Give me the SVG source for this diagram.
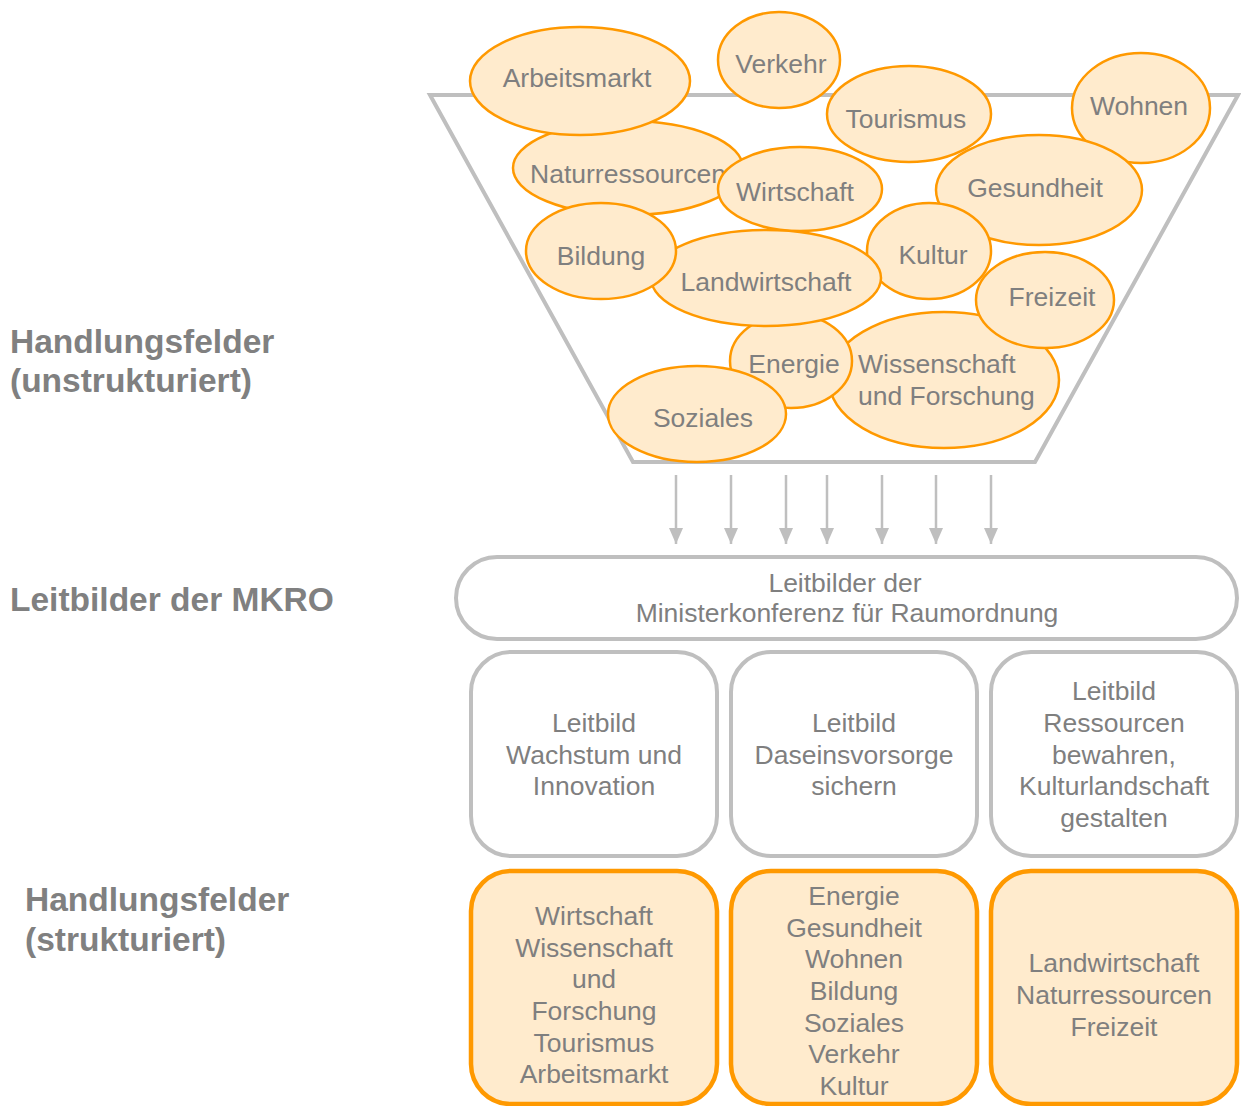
<svg xmlns="http://www.w3.org/2000/svg" width="1241" height="1106" viewBox="0 0 1241 1106">
<style>
.t{font-family:"Liberation Sans",Arial,sans-serif;font-size:26.5px;fill:#7F7F7F;text-anchor:middle}
.s{text-anchor:start}
.lbl{font-family:"Liberation Sans",Arial,sans-serif;font-size:33.5px;font-weight:bold;fill:#808080}
.el{fill:#FFEBCD;stroke:#FF9900;stroke-width:2.5}
.box{fill:#FFFFFF;stroke:#BFBFBF;stroke-width:4}
.obox{fill:#FFEBCD;stroke:#FF9900;stroke-width:4.5}
.ar{stroke:#BFBFBF;stroke-width:2.5;fill:none}
</style>
<defs>
<marker id="ah" markerWidth="16" markerHeight="14" refX="16" refY="7" orient="auto" markerUnits="userSpaceOnUse" viewBox="0 0 16 14">
<path d="M0,0 L16,7 L0,14 Z" fill="#BFBFBF"/>
</marker>
</defs>
<rect width="1241" height="1106" fill="#FFFFFF"/>

<g id="labels">
<text class="lbl" x="10" y="353">Handlungsfelder</text>
<text class="lbl" x="10" y="392">(unstrukturiert)</text>
<text class="lbl" x="10" y="611">Leitbilder der MKRO</text>
<text class="lbl" x="25" y="911">Handlungsfelder</text>
<text class="lbl" x="25" y="951">(strukturiert)</text>
</g>

<g id="funnel">
<polygon points="430,95 1238,95 1035,462 633,462" fill="none" stroke="#BFBFBF" stroke-width="4"/>
</g>

<g id="n-verkehr"><ellipse class="el" cx="779" cy="60" rx="61" ry="48"/><text class="t" x="781" y="73">Verkehr</text></g>
<g id="n-tourismus"><ellipse class="el" cx="909" cy="114" rx="82" ry="48"/><text class="t" x="906" y="128">Tourismus</text></g>
<g id="n-wohnen"><ellipse class="el" cx="1141" cy="108" rx="69" ry="55"/><text class="t" x="1139" y="115">Wohnen</text></g>
<g id="n-gesundheit"><ellipse class="el" cx="1039" cy="190" rx="103" ry="55"/><text class="t" x="1035" y="197">Gesundheit</text></g>
<g id="n-naturressourcen"><ellipse class="el" cx="628" cy="168" rx="115" ry="47"/><text class="t" x="628" y="183">Naturressourcen</text></g>
<g id="n-arbeitsmarkt"><ellipse class="el" cx="580" cy="81" rx="110" ry="54"/><text class="t" x="577" y="87">Arbeitsmarkt</text></g>
<g id="n-wirtschaft"><ellipse class="el" cx="800" cy="189" rx="82" ry="42"/><text class="t" x="795" y="201">Wirtschaft</text></g>
<g id="n-kultur"><ellipse class="el" cx="929" cy="251" rx="62" ry="48"/><text class="t" x="933" y="264">Kultur</text></g>
<g id="n-wissenschaft"><ellipse class="el" cx="944" cy="380" rx="115" ry="68"/><text class="t s" x="858" y="373">Wissenschaft</text><text class="t s" x="858" y="405">und Forschung</text></g>
<g id="n-energie"><ellipse class="el" cx="791" cy="361" rx="61" ry="47"/><text class="t" x="794" y="373">Energie</text></g>
<g id="n-landwirtschaft"><ellipse class="el" cx="766" cy="278" rx="115" ry="48"/><text class="t" x="766" y="291">Landwirtschaft</text></g>
<g id="n-bildung"><ellipse class="el" cx="601" cy="251" rx="75" ry="48"/><text class="t" x="601" y="265">Bildung</text></g>
<g id="n-freizeit"><ellipse class="el" cx="1045" cy="300" rx="69" ry="48"/><text class="t" x="1052" y="306">Freizeit</text></g>
<g id="n-soziales"><ellipse class="el" cx="697" cy="414" rx="89" ry="48"/><text class="t" x="703" y="427">Soziales</text></g>

<g id="connectors">
<line class="ar" x1="676" y1="475" x2="676" y2="544" marker-end="url(#ah)"/>
<line class="ar" x1="731" y1="475" x2="731" y2="544" marker-end="url(#ah)"/>
<line class="ar" x1="786" y1="475" x2="786" y2="544" marker-end="url(#ah)"/>
<line class="ar" x1="827" y1="475" x2="827" y2="544" marker-end="url(#ah)"/>
<line class="ar" x1="882" y1="475" x2="882" y2="544" marker-end="url(#ah)"/>
<line class="ar" x1="936" y1="475" x2="936" y2="544" marker-end="url(#ah)"/>
<line class="ar" x1="991" y1="475" x2="991" y2="544" marker-end="url(#ah)"/>
</g>

<g id="leitbilder-mkro">
<rect class="box" x="456" y="557" width="781" height="82" rx="41" ry="41"/>
<text class="t" x="845" y="592">Leitbilder der</text>
<text class="t" x="847" y="622">Ministerkonferenz für Raumordnung</text>
</g>

<g id="leitbild-wachstum">
<rect class="box" x="471" y="652" width="246" height="204" rx="40" ry="40"/>
<text class="t" x="594" y="732">Leitbild</text>
<text class="t" x="594" y="764">Wachstum und</text>
<text class="t" x="594" y="795">Innovation</text>
</g>
<g id="leitbild-daseinsvorsorge">
<rect class="box" x="731" y="652" width="246" height="204" rx="40" ry="40"/>
<text class="t" x="854" y="732">Leitbild</text>
<text class="t" x="854" y="764">Daseinsvorsorge</text>
<text class="t" x="854" y="795">sichern</text>
</g>
<g id="leitbild-ressourcen">
<rect class="box" x="991" y="652" width="246" height="204" rx="40" ry="40"/>
<text class="t" x="1114" y="700">Leitbild</text>
<text class="t" x="1114" y="732">Ressourcen</text>
<text class="t" x="1114" y="764">bewahren,</text>
<text class="t" x="1114" y="795">Kulturlandschaft</text>
<text class="t" x="1114" y="827">gestalten</text>
</g>

<g id="hf-wachstum">
<rect class="obox" x="471" y="871" width="246" height="233" rx="40" ry="40"/>
<text class="t" x="594" y="925">Wirtschaft</text>
<text class="t" x="594" y="957">Wissenschaft</text>
<text class="t" x="594" y="988">und</text>
<text class="t" x="594" y="1020">Forschung</text>
<text class="t" x="594" y="1052">Tourismus</text>
<text class="t" x="594" y="1083">Arbeitsmarkt</text>
</g>
<g id="hf-daseinsvorsorge">
<rect class="obox" x="731" y="871" width="246" height="233" rx="40" ry="40"/>
<text class="t" x="854" y="905">Energie</text>
<text class="t" x="854" y="937">Gesundheit</text>
<text class="t" x="854" y="968">Wohnen</text>
<text class="t" x="854" y="1000">Bildung</text>
<text class="t" x="854" y="1032">Soziales</text>
<text class="t" x="854" y="1063">Verkehr</text>
<text class="t" x="854" y="1095">Kultur</text>
</g>
<g id="hf-ressourcen">
<rect class="obox" x="991" y="871" width="246" height="233" rx="40" ry="40"/>
<text class="t" x="1114" y="972">Landwirtschaft</text>
<text class="t" x="1114" y="1004">Naturressourcen</text>
<text class="t" x="1114" y="1036">Freizeit</text>
</g>
</svg>
